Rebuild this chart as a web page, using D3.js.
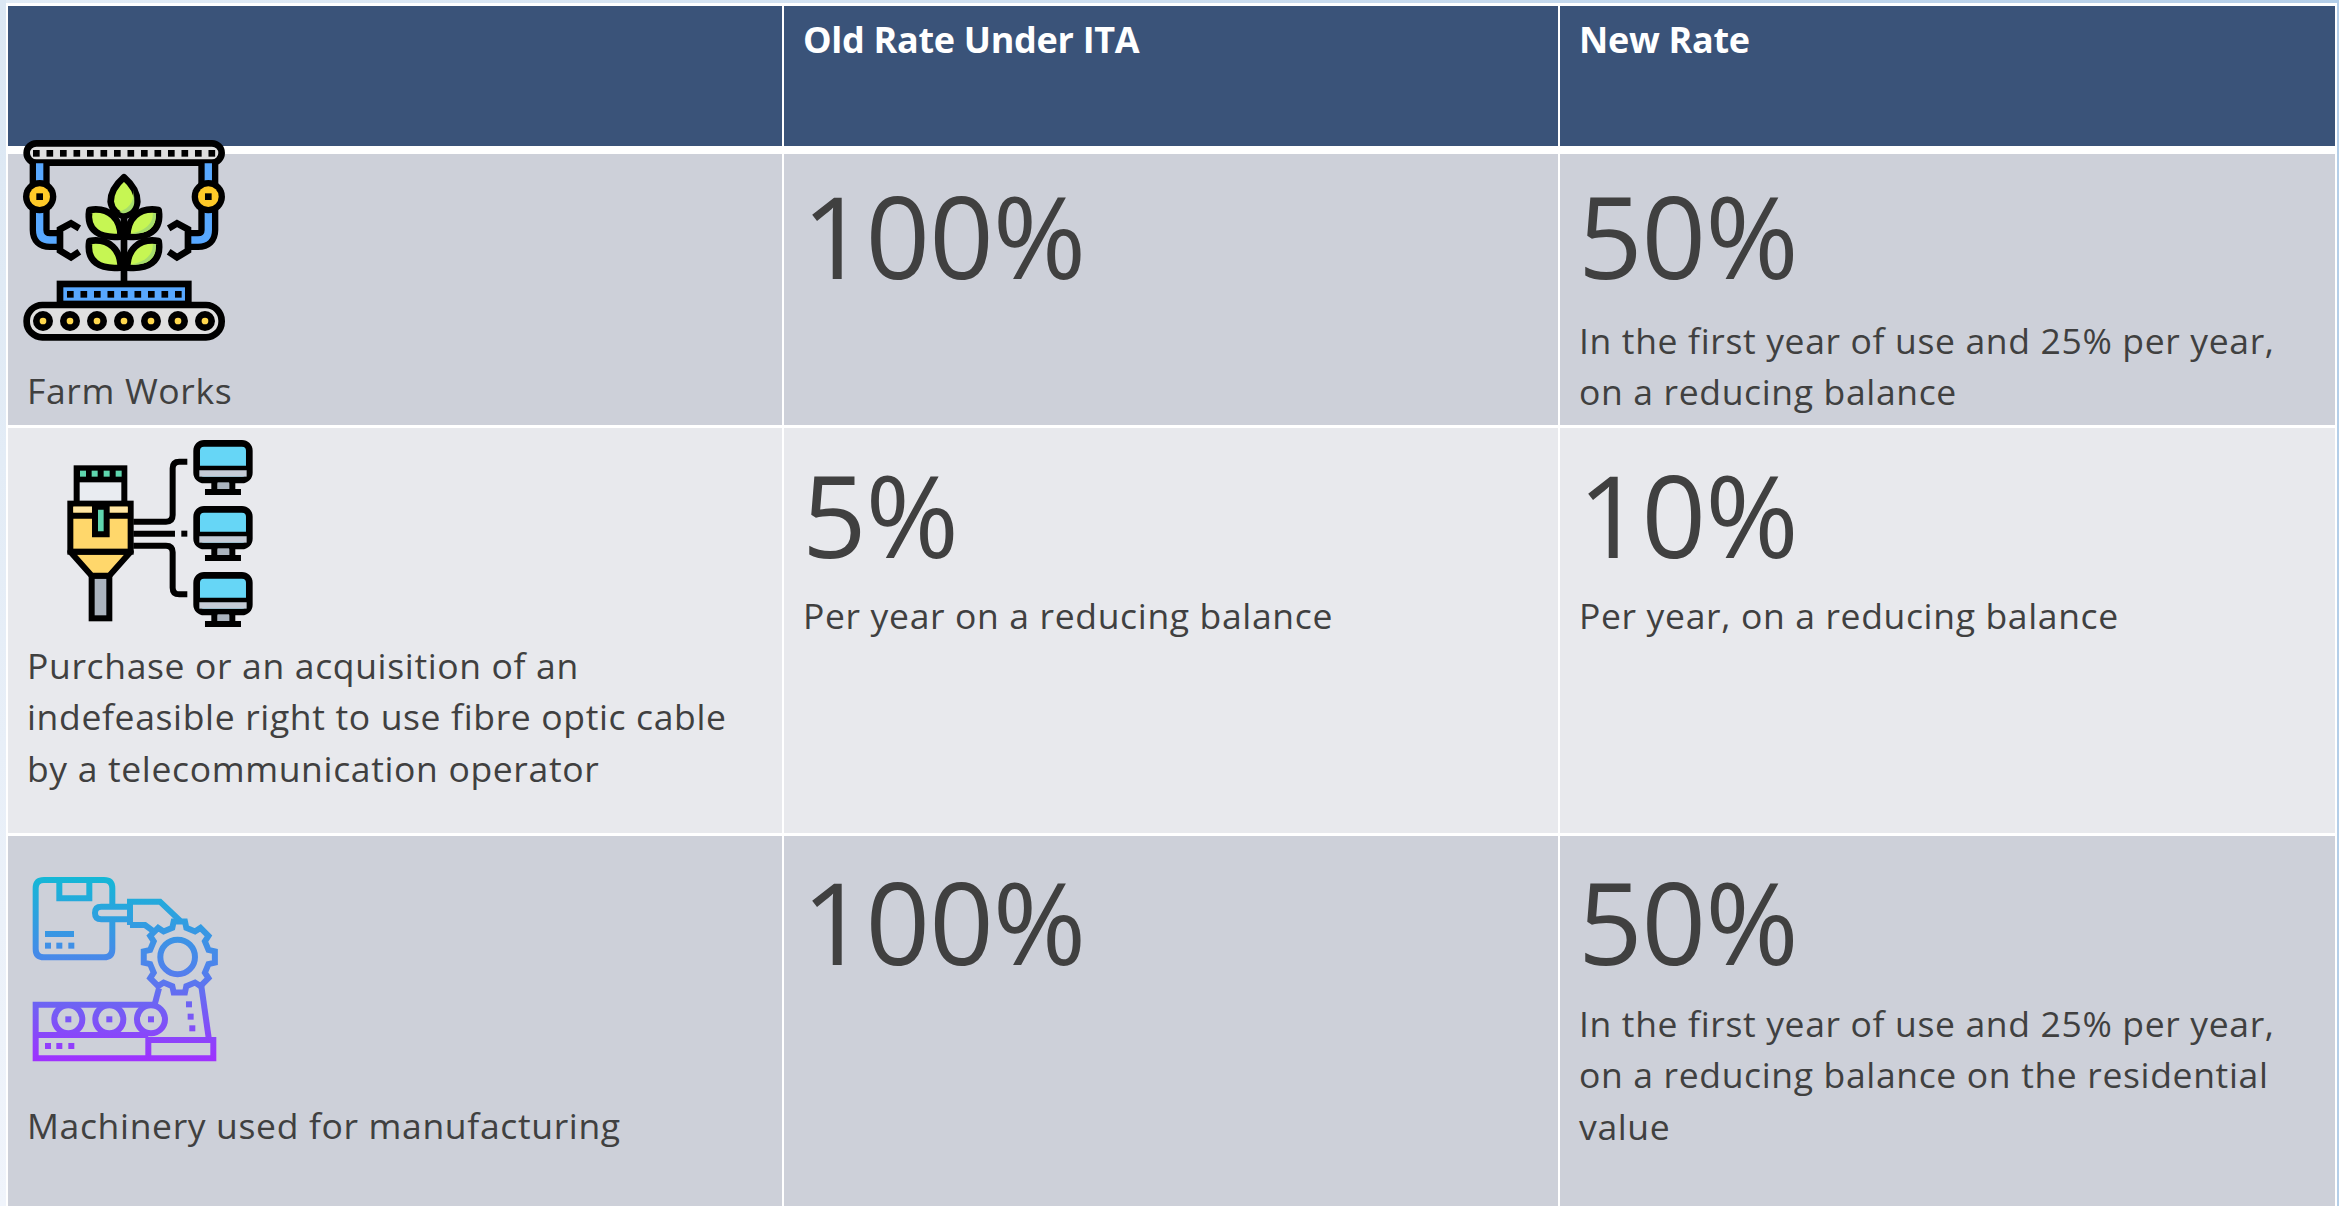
<!DOCTYPE html>
<html>
<head>
<meta charset="utf-8">
<script src="https://cdn.jsdelivr.net/npm/d3@7"></script>
<style>
html, body { margin: 0; padding: 0; background: #fff; overflow: hidden; }
svg { display: block; }
text { font-family: "Open Sans", sans-serif; }
</style>
</head>
<body>
<script>
// ---- table content ----
var headers   = ["", "Old Rate Under ITA", "New Rate"]
var rowLabels = [
	["Farm Works"],
	["Purchase or an acquisition of an", "indefeasible right to use fibre optic cable", "by a telecommunication operator"],
	["Machinery used for manufacturing"]
]
var oldRates = ["100%", "5%", "100%"]
var oldNotes = [[], ["Per year on a reducing balance"], []]
var newRates = ["50%", "10%", "50%"]
var newNotes = [
	["In the first year of use and 25% per year,", "on a reducing balance"],
	["Per year, on a reducing balance"],
	["In the first year of use and 25% per year,", "on a reducing balance on the residential", "value"]
]

// ---- layout ----
var W = 2339, H = 1206
var colEdges = [[8, 782], [784, 1558], [1560, 2335]]
var rowEdges = [[154, 425], [428, 833], [836, 1206]]
var labelBase = [404, 679, 1139]
var rateBase  = [279, 558, 965]
var noteBase  = [354, 629, 1037]
var lineGap = 51.3
var padX = 19

var svg = d3.select("body").append("svg").attr("width", W).attr("height", H)
var defs = svg.append("defs")

var edge = defs.append("linearGradient").attr("id", "edge")
edge.append("stop").attr("offset", 0).attr("stop-color", "#e2ecf6")
edge.append("stop").attr("offset", 1).attr("stop-color", "#b4cee8")
var edgeV = defs.append("linearGradient").attr("id", "edgeV").attr("x2", 0).attr("y2", 1)
edgeV.append("stop").attr("offset", 0).attr("stop-color", "#dbe7f3")
edgeV.append("stop").attr("offset", 1).attr("stop-color", "#f0f4fb")

svg.append("rect").attr("width", W).attr("height", H).attr("fill", "#fff")
svg.append("rect").attr("width", W).attr("height", 3).attr("fill", "url(#edge)")
svg.append("rect").attr("width", 6).attr("height", H).attr("fill", "url(#edgeV)")
svg.append("rect").attr("x", 2337).attr("width", 2).attr("height", H).attr("fill", "#b4cee8")

// header cells
svg.selectAll("rect.head").data(colEdges).enter().append("rect").attr("class", "head")
	.attr("x", function (d) { return d[0] })
	.attr("y", 6)
	.attr("width", function (d) { return d[1] - d[0] })
	.attr("height", 140)
	.attr("fill", "#3a5379")

svg.selectAll("text.head").data(headers).enter().append("text").attr("class", "head")
	.attr("x", function (d, i) { return colEdges[i][0] + padX })
	.attr("y", 53)
	.attr("fill", "#fff")
	.style("font-size", "36px")
	.style("font-weight", 700)
	.style("letter-spacing", "-0.3px")
	.text(function (d) { return d })

// body cells
rowEdges.forEach(function (r, ri) {
	colEdges.forEach(function (c) {
		svg.append("rect")
			.attr("x", c[0]).attr("y", r[0])
			.attr("width", c[1] - c[0]).attr("height", r[1] - r[0])
			.attr("fill", ri == 1 ? "#e8e9ed" : "#cdd0d9")
	})
})

function lines(x, base, list) {
	list.forEach(function (t, i) {
		svg.append("text")
			.attr("x", x)
			.attr("y", base + i * lineGap)
			.attr("fill", "#404040")
			.style("font-size", "35.5px")
			.style("letter-spacing", "0.65px")
			.text(t)
	})
}
function rate(x, base, t) {
	svg.append("text")
		.attr("x", x)
		.attr("y", base)
		.attr("fill", "#404040")
		.style("font-size", "113px")
		.style("font-weight", 400)
		.style("letter-spacing", "-1px")
		.text(t)
}

rowLabels.forEach(function (l, i) {
	lines(colEdges[0][0] + padX, labelBase[i], l)
	rate(colEdges[1][0] + 18, rateBase[i], oldRates[i])
	rate(colEdges[2][0] + 18, rateBase[i], newRates[i])
	lines(colEdges[1][0] + padX, noteBase[i], oldNotes[i])
	lines(colEdges[2][0] + padX, noteBase[i], newNotes[i])
})

// ---- icons, drawn in 3x crop units ----
function icon(x, y) {
	return svg.append("g").attr("transform", "translate(" + x + "," + y + ") scale(0.3333)")
}
function shape(g, tag, attrs) {
	var s = g.append(tag)
	for (var k in attrs) s.attr(k, attrs[k])
	return s
}
var K = "#000"

// farm works
var a = icon(0, 120)
shape(a, "rect", {x: 80, y: 70, width: 585, height: 58, rx: 29, fill: "#e0e0e0", stroke: K, "stroke-width": 20})
d3.range(14).forEach(function (i) {
	shape(a, "rect", {x: 99 + i * 40.5, y: 90, width: 20, height: 20, fill: K})
})
;[0, 1].forEach(function (side) {
	var g = a.append("g")
	if (side) g.attr("transform", "translate(744,0) scale(-1,1)")
	var arm = "M119,130V330Q119,360 150,360H180"
	shape(g, "path", {d: arm, fill: "none", stroke: K, "stroke-width": 60})
	shape(g, "path", {d: arm, fill: "none", stroke: "#58a8ff", "stroke-width": 22})
	shape(g, "circle", {cx: 119, cy: 230, r: 50, fill: K})
	shape(g, "circle", {cx: 119, cy: 230, r: 31, fill: "#ffca28"})
	shape(g, "rect", {x: 109, y: 220, width: 20, height: 20, fill: K})
	shape(g, "path", {d: "M238,325L213,310L180,328V392L213,412L238,395", fill: "none", stroke: K, "stroke-width": 20})
})
shape(a, "rect", {x: 362, y: 280, width: 20, height: 215, fill: K})
var leaves = [
	"M372,172C340,200 332,225 332,245C335,270 355,285 372,288C390,285 410,270 412,245C412,225 404,200 372,172Z",
	"M268,270C330,260 362,298 362,350C300,356 258,333 268,270Z",
	"M476,270C414,260 382,298 382,350C444,356 486,333 476,270Z",
	"M268,363C330,353 362,391 362,443C300,449 258,426 268,363Z",
	"M476,363C414,353 382,391 382,443C444,449 486,426 476,363Z"
]
leaves.forEach(function (d) {
	shape(a, "path", {d: d, fill: "#c6f653", stroke: K, "stroke-width": 20, "stroke-linejoin": "round"})
})
var shades = [
	"M398,205C404,225 402,262 358,275C364,279 368,280 372,280C392,276 403,262 403,245C403,230 402,218 398,205Z",
	"M458,280C462,310 430,338 390,340C430,346 470,330 468,280Z",
	"M458,373C462,403 430,431 390,433C430,439 470,423 468,373Z"
]
shades.forEach(function (d) { shape(a, "path", {d: d, fill: "#a6dd6c"}) })
shape(a, "rect", {x: 180, y: 492, width: 385, height: 60, fill: "#58a8ff", stroke: K, "stroke-width": 20})
d3.range(9).forEach(function (i) {
	shape(a, "rect", {x: 201 + i * 40.5, y: 513, width: 20, height: 20, fill: K})
})
shape(a, "rect", {x: 80, y: 555, width: 585, height: 97, rx: 47, fill: "#e0e0e0", stroke: K, "stroke-width": 20})
d3.range(7).forEach(function (i) {
	shape(a, "circle", {cx: 129 + i * 81, cy: 603, r: 30, fill: K})
	shape(a, "circle", {cx: 129 + i * 81, cy: 603, r: 10, fill: "#ffd84d"})
})

// fibre optic
var b = icon(40, 425)
;[0, 198, 396].forEach(function (dy) {
	shape(b, "rect", {x: 470, y: 55 + dy, width: 158, height: 110, rx: 22, fill: "#66d6f6", stroke: K, "stroke-width": 20})
	shape(b, "rect", {x: 478, y: 135 + dy, width: 142, height: 20, fill: "#c5cbd6"})
	shape(b, "line", {x1: 470, x2: 628, y1: 129 + dy, y2: 129 + dy, stroke: K, "stroke-width": 14})
	shape(b, "rect", {x: 532, y: 172 + dy, width: 36, height: 22, fill: "#aab3be"})
	shape(b, "line", {x1: 495, x2: 603, y1: 201 + dy, y2: 201 + dy, stroke: K, "stroke-width": 18})
	shape(b, "line", {x1: 523, x2: 523, y1: 165 + dy, y2: 201 + dy, stroke: K, "stroke-width": 18})
	shape(b, "line", {x1: 577, x2: 577, y1: 165 + dy, y2: 201 + dy, stroke: K, "stroke-width": 18})
})
var wire = {fill: "none", stroke: K, "stroke-width": 18}
shape(b, "path", Object.assign({d: "M280,290H378Q398,290 398,270V130Q398,110 418,110H442"}, wire))
shape(b, "path", Object.assign({d: "M280,326H405"}, wire))
shape(b, "rect", {x: 424, y: 317, width: 18, height: 18, fill: K})
shape(b, "path", Object.assign({d: "M280,362H378Q398,362 398,382V488Q398,508 418,508H442"}, wire))
shape(b, "rect", {x: 110, y: 130, width: 143, height: 110, fill: "#e9ecf1", stroke: K, "stroke-width": 18})
shape(b, "rect", {x: 110, y: 130, width: 143, height: 42, fill: K})
;[120, 155, 191, 227].forEach(function (x) {
	shape(b, "rect", {x: x, y: 137, width: 18, height: 18, fill: "#5fd6ae"})
})
shape(b, "rect", {x: 155, y: 452, width: 53, height: 128, fill: "#aab3be", stroke: K, "stroke-width": 18})
shape(b, "path", {d: "M91,380L155,452H208L272,380Z", fill: "#ffd76b", stroke: K, "stroke-width": 18, "stroke-linejoin": "round"})
shape(b, "rect", {x: 91, y: 236, width: 181, height: 144, fill: "#ffd76b", stroke: K, "stroke-width": 18})
shape(b, "rect", {x: 100, y: 245, width: 163, height: 18, fill: "#ffe6a3"})
shape(b, "line", {x1: 91, x2: 272, y1: 272, y2: 272, stroke: K, "stroke-width": 18})
shape(b, "path", {d: "M165,245V328H200V245Z", fill: "#5fd6ae", stroke: K, "stroke-width": 18})

// manufacturing
var c = icon(10, 860)
var grad = defs.append("linearGradient").attr("id", "machine")
	.attr("gradientUnits", "userSpaceOnUse").attr("x1", 0).attr("y1", 50).attr("x2", 0).attr("y2", 605)
grad.append("stop").attr("offset", 0).attr("stop-color", "#14b8d6")
grad.append("stop").attr("offset", 0.5).attr("stop-color", "#4f82ec")
grad.append("stop").attr("offset", 1).attr("stop-color", "#a030ff")
var line3 = {fill: "none", stroke: "url(#machine)", "stroke-width": 18}
var gearPts = []
d3.range(8).forEach(function (i) {
	var s = 2 * Math.PI / 8, t = i * s
	gearPts.push(d3.pointRadial(t - s * 0.3, 90), d3.pointRadial(t - s * 0.2, 108), d3.pointRadial(t + s * 0.2, 108), d3.pointRadial(t + s * 0.3, 90))
})
var gearPath = "M" + gearPts.map(function (p) { return [p[0] + 508, p[1] + 291].join(",") }).join("L") + "Z"
var paths3 = [
	"M307,135V85Q307,60 282,60H102Q77,60 77,85V267Q77,292 102,292H282Q307,292 307,267V185",
	"M148,60V115H238V60",
	"M105,222H192",
	"M360,140H274Q255,140 255,159Q255,178 274,178H360",
	"M360,195V125H450L510,182",
	"M360,195H405L432,215",
	gearPath,
	"M440,434H77V595H610V540H415V595",
	"M77,525H415",
	"M447,385L434,434",
	"M574,378L597,540"
]
paths3.forEach(function (d) { shape(c, "path", Object.assign({d: d}, line3)) })
shape(c, "circle", Object.assign({cx: 503, cy: 291, r: 52}, line3))
;[175, 298, 423].forEach(function (x) {
	shape(c, "circle", Object.assign({cx: x, cy: 478, r: 42}, line3))
	shape(c, "rect", {x: x - 9, y: 469, width: 18, height: 18, fill: "url(#machine)"})
})
;[[105, 248], [139, 248], [175, 248], [105, 549], [139, 549], [175, 549], [528, 424], [533, 461], [538, 496]].forEach(function (p) {
	shape(c, "rect", {x: p[0], y: p[1], width: 18, height: 18, fill: "url(#machine)"})
})
</script>
</body>
</html>
